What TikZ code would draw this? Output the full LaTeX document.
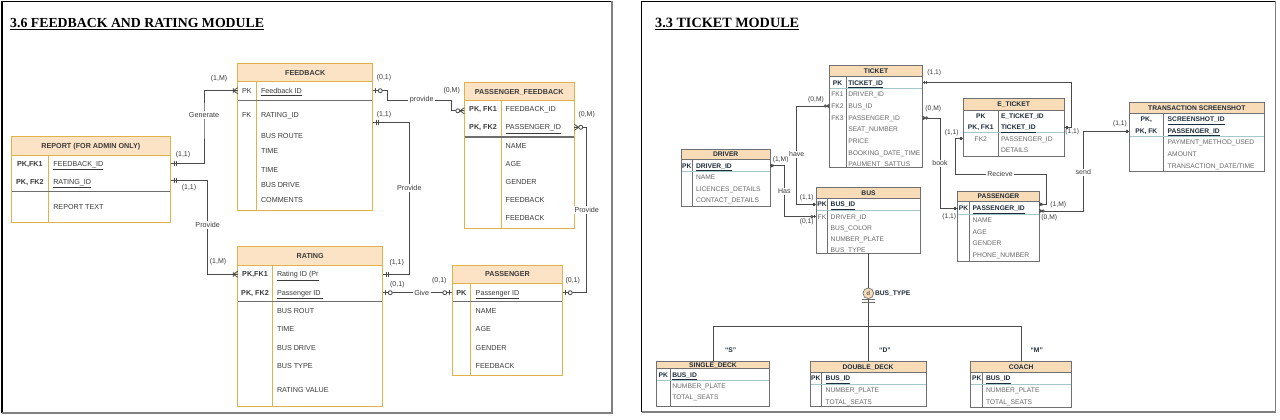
\documentclass[tikz,border=0pt]{standalone}
\usepackage{fontspec}
\setmainfont{Liberation Sans}
\newfontfamily\ttlfont{Liberation Serif}
\usetikzlibrary{calc}
\definecolor{lstroke}{HTML}{E2B24A}
\definecolor{lfill}{HTML}{FDE3C6}
\definecolor{lsepc}{HTML}{6E6E6E}
\definecolor{ltxt}{HTML}{3A3A3A}
\definecolor{connc}{HTML}{4A4A4A}
\definecolor{rstroke}{HTML}{707070}
\definecolor{rfill}{HTML}{F8DCB8}
\definecolor{rsepc}{HTML}{A6C6CA}
\definecolor{rtxt}{HTML}{6A6A6A}
\definecolor{rdark}{HTML}{1E2B38}
\newcommand\lfnt{\fontsize{7.2}{8.6}\selectfont}
\newcommand\rfnt{\fontsize{6.7}{8}\selectfont}
\newcommand\cfnt{\fontsize{7}{8}\selectfont}
\tikzset{
 tabbox/.style={draw=none,fill=white,inner sep=0pt,outer sep=0pt,rectangle},
 lline/.style={draw=lstroke,line width=0.9pt},
 lsep/.style={draw=lsepc,line width=1.3pt},
 rline/.style={draw=rstroke,line width=0.8pt},
 rsep/.style={draw=rsepc,line width=0.8pt},
 lk/.style={font=\lfnt,text=ltxt,inner sep=0pt,outer sep=0pt,text height=5.2pt,text depth=0pt,anchor=west},
 lkc/.style={lk,anchor=center},
 lkb/.style={lkc,font=\lfnt\bfseries},
 la/.style={lk},
 lh/.style={font=\lfnt\bfseries,text=ltxt,inner sep=0pt,text height=5.2pt,text depth=0pt},
 rk/.style={font=\rfnt,text=rtxt,inner sep=0pt,outer sep=0pt,text height=4.8pt,text depth=0pt,anchor=center},
 rkb/.style={rk,font=\rfnt\bfseries,text=rdark},
 ra/.style={rk,anchor=west},
 rab/.style={ra,font=\rfnt\bfseries,text=rdark},
 rh/.style={font=\rfnt\bfseries,text=rdark,inner sep=0pt,text height=4.8pt,text depth=0pt},
 card/.style={font=\cfnt,text=ltxt,inner sep=0.5pt},
 rel/.style={font=\lfnt,text=ltxt,fill=white,inner sep=1.5pt},
 rcard/.style={font=\rfnt,text=ltxt,inner sep=0.5pt},
 rrel/.style={font=\fontsize{7}{8}\selectfont,text=ltxt,fill=white,inner sep=1pt},
 lconn/.style={draw=connc,line width=0.9pt},
 rconn/.style={draw=connc,line width=0.7pt},
 mk/.style={draw=connc,line width=0.8pt},
 disc/.style={circle,draw=rstroke,fill=rfill,line width=0.7pt,minimum size=10.7pt,inner sep=0pt,font=\fontsize{6}{7}\selectfont,text=rdark},
 ttl/.style={anchor=base west,inner sep=0pt,text=black}
}
% #1 name #2 x1 #3 y1 #4 x2 #5 y2 #6 header bottom #7 divider x #8 title #9 separator y
\newcommand\ltable[9]{%
 \node[tabbox,minimum width={#4-#2},minimum height={#5-#3}] (#1) at ({(#2+#4)/2},{(#3+#5)/2}) {};
 \fill[lfill] (#2,#3) rectangle (#4,#6);
 \draw[lline] (#2,#6) -- (#4,#6) (#7,#6) -- (#7,#5);
 \draw[lsep] (#2,#9) -- (#4,#9);
 \draw[lline] (#1.north west) rectangle (#1.south east);
 \node[lh] (#1-h) at ({(#2+#4)/2},{(#3+#6)/2}) {#8};}
\newcommand\rtable[9]{%
 \node[tabbox,minimum width={#4-#2},minimum height={#5-#3}] (#1) at ({(#2+#4)/2},{(#3+#5)/2}) {};
 \fill[rfill] (#2,#3) rectangle (#4,#6);
 \draw[rline] (#2,#6) -- (#4,#6) (#7,#6) -- (#7,#5);
 \draw[rsep] (#2,#9) -- (#4,#9);
 \draw[rline] (#1.north west) rectangle (#1.south east);
 \node[rh] (#1-h) at ({(#2+#4)/2},{(#3+#6)/2}) {#8};}
% markers: #1 point, #2 direction (1 = line leaves to the right), #3 scale
\newcommand\mkone[3]{\draw[mk] (#1) ++({(#2)*3.5*(#3)},{-2.5*(#3)}) -- ++(0,{5*(#3)}) (#1) ++({(#2)*5.5*(#3)},{-2.5*(#3)}) -- ++(0,{5*(#3)});}
\newcommand\mkzone[3]{\draw[mk] (#1) ++({(#2)*3*(#3)},{-2.5*(#3)}) -- ++(0,{5*(#3)}); \draw[mk,fill=white] (#1) ++({(#2)*7.5*(#3)},0) circle[radius={2*(#3)}];}
\newcommand\mkmany[3]{\draw[mk] (#1) ++(0,{-3*(#3)}) -- ++({(#2)*4.5*(#3)},{3*(#3)}) -- ++({-1*(#2)*4.5*(#3)},{3*(#3)}) (#1) -- ++({(#2)*4.5*(#3)},0) ++(0,{-2.5*(#3)}) -- ++(0,{5*(#3)});}
\newcommand\mkzmany[3]{\draw[mk] (#1) ++(0,{-3*(#3)}) -- ++({(#2)*4.5*(#3)},{3*(#3)}) -- ++({-1*(#2)*4.5*(#3)},{3*(#3)}) (#1) -- ++({(#2)*4.5*(#3)},0); \draw[mk,fill=white] (#1) ++({(#2)*6.5*(#3)},0) circle[radius={2*(#3)}];}
\begin{document}
\begin{tikzpicture}[x=1pt,y=-1pt]
\useasboundingbox (0,0) rectangle (1280,420);
\fill[white] (0,0) rectangle (1280,420);
% panel frames
\draw[black,line width=1.2pt] (2,413) -- (2,1.5) -- (612,1.5);
\draw[black!50,line width=1.5pt] (612,1.5) -- (612,413) -- (2,413);
\draw[black,line width=1.2pt] (641.5,412) -- (641.5,1.5) -- (1275.5,1.5);
\draw[black!50,line width=1.5pt] (1275.5,1.5) -- (1275.5,412) -- (641.5,412);
\node[ttl] (t1) at (10,27.3) {\ttlfont\bfseries\fontsize{13.8}{16}\selectfont\underline{3.6 FEEDBACK AND RATING MODULE}};
\node[ttl] (t2) at (655,27.3) {\ttlfont\bfseries\fontsize{14.2}{16}\selectfont\underline{3.3 TICKET MODULE}};

%================ LEFT PANEL ================
\ltable{report}{11}{136.7}{170.7}{222}{155.3}{48.7}{REPORT (FOR ADMIN ONLY)}{191.7}
\node[lkb] (rpk1k) at (29.85,163.7) {PK,FK1};
\node[lkb] (rpk2k) at (29.85,182) {PK, FK2};
\node[la] (rpk1) at (53.3,163.7) {\underline{FEEDBACK\_ID}};
\node[la] (rpk2) at (53.3,182) {\underline{RATING\_ID}};
\node[la] (rtxt) at (53.3,206.7) {REPORT TEXT};

\ltable{fb}{237.7}{63.3}{372.7}{210}{81.7}{256.7}{FEEDBACK}{100.7}
\node[lk] (fbpkk) at (242,90.7) {PK};
\node[lk] (fbfkk) at (242,115) {FK};
\node[la] (fbpk) at (261,90.7) {\underline{Feedback ID}};
\node[la] (fbr1) at (261,115) {RATING\_ID};
\node[la] (fbr2) at (261,136) {BUS ROUTE};
\node[la] (fbr3) at (261,151) {TIME};
\node[la] (fbr4) at (261,170) {TIME};
\node[la] (fbr5) at (261,185) {BUS DRIVE};
\node[la] (fbr6) at (261,200) {COMMENTS};

\ltable{pf}{464.3}{82.3}{574.3}{228.3}{100.7}{501.7}{PASSENGER\_FEEDBACK}{137}
\node[lkb] (pfk1) at (483,109.3) {PK, FK1};
\node[lkb] (pfk2) at (483,127.3) {PK, FK2};
\node[la] (pfa1) at (505.7,109.3) {FEEDBACK\_ID};
\node[la] (pfa2) at (505.7,127.3) {\underline{PASSENGER\_ID}};
\node[la] (pfa3) at (505.7,145.7) {NAME};
\node[la] (pfa4) at (505.7,163.7) {AGE};
\node[la] (pfa5) at (505.7,182) {GENDER};
\node[la] (pfa6) at (505.7,200) {FEEDBACK};
\node[la] (pfa7) at (505.7,218.3) {FEEDBACK};

\ltable{rating}{237.7}{246.7}{382.7}{406}{265.3}{272.7}{RATING}{301.7}
\node[lkb] (rtkk1) at (255,274.3) {PK,FK1};
\node[lkb] (rtkk2) at (255,292.7) {PK, FK2};
\node[la] (rtk1) at (277,274.3) {\underline{Rating ID (Pr}};
\node[la] (rtk2) at (277,292.7) {\underline{Passenger ID\ }};
\node[la] (rta3) at (277,310.7) {BUS ROUT};
\node[la] (rta4) at (277,329) {TIME};
\node[la] (rta5) at (277,347.7) {BUS DRIVE};
\node[la] (rta6) at (277,366) {BUS TYPE};
\node[la] (rta7) at (277,390) {RATING VALUE};

\ltable{pas}{452.3}{265}{562.7}{375.3}{283.3}{470.3}{PASSENGER}{301.7}
\node[lkb] (pask) at (461.3,292.7) {PK};
\node[la] (paspk) at (475.7,292.7) {\underline{Passenger ID}};
\node[la] (pasa1) at (475.7,311) {NAME};
\node[la] (pasa2) at (475.7,329) {AGE};
\node[la] (pasa3) at (475.7,347.7) {GENDER};
\node[la] (pasa4) at (475.7,366) {FEEDBACK};

% left connectors
\coordinate (genb) at (204,115);
\draw[lconn] (report.east |- rpk1) -| (genb) |- (fb.west |- fbpk);
\node[rel] (gen) at (genb) {Generate};
\mkone{report.east |- rpk1}{1}{1}
\mkmany{fb.west |- fbpk}{-1}{1}

\coordinate (rp2) at ($(report.east |- rpk2)+(0,-2)$);
\coordinate (prvb) at (207.7,225);
\draw[lconn] (rp2) -| (prvb) |- (rating.west |- rtk1);
\node[rel] (prv1) at (prvb) {Provide};
\mkone{rp2}{1}{1}
\mkmany{rating.west |- rtk1}{-1}{1}

\coordinate (pvb1) at (387.7,100);
\coordinate (pvb2) at (451.7,100);
\coordinate (pfin) at ($(pf.west |- pfa1)+(0,1.5)$);
\draw[lconn] (fb.east |- fbpk) -| (pvb1) -- (pvb2) |- (pfin);
\node[rel] (pv) at (421.7,100) {provide};
\mkzone{fb.east |- fbpk}{1}{1}
\mkzmany{pfin}{-1}{1}

\coordinate (fbr1c) at ($(fb.east |- fbr1)+(0,7)$);
\coordinate (pv2b) at (409.3,188.3);
\draw[lconn] (fbr1c) -| (pv2b) |- (rating.east |- rtk1);
\node[rel] (prv2) at (pv2b) {Provide};
\mkone{fbr1c}{1}{1}
\mkone{rating.east |- rtk1}{1}{1}

\draw[lconn] (rating.east |- rtk2) -- node[rel,pos=0.56] (give) {Give} (pas.west |- paspk);
\mkzone{rating.east |- rtk2}{1}{1}
\mkzone{pas.west |- paspk}{-1}{1}

\coordinate (pv3b) at (586.7,210);
\draw[lconn] (pf.east |- pfa2) -| (pv3b) |- (pas.east |- paspk);
\node[rel] (prv3) at (pv3b) {Provide};
\mkzmany{pf.east |- pfa2}{1}{1}
\mkzone{pas.east |- paspk}{1}{1}

\node[card] (c1) at (219,78.7) {(1,M)};
\node[card] (c2) at (183,155) {(1,1)};
\node[card] (c3) at (189,187.3) {(1,1)};
\node[card] (c4) at (218,262) {(1,M)};
\node[card] (c5) at (384,77.5) {(0,1)};
\node[card] (c6) at (451.7,90.7) {(0,M)};
\node[card] (c7) at (384,115) {(1,1)};
\node[card] (c8) at (396.7,262.3) {(1,1)};
\node[card] (c9) at (397.3,285) {(0,1)};
\node[card] (c10) at (439.3,280.7) {(0,1)};
\node[card] (c11) at (586.7,115) {(0,M)};
\node[card] (c12) at (572.7,280.7) {(0,1)};

%================ RIGHT PANEL ================
\rtable{ticket}{829.3}{65.7}{922.7}{167.7}{76.5}{846}{TICKET}{88.3}
\node[rkb] (tpkk) at (837.5,82.7) {PK};
\node[rk] (tfk1k) at (837.5,94) {FK1};
\node[rk] (tfk2k) at (837.5,106) {FK2};
\node[rk] (tfk3k) at (837.5,118) {FK3};
\node[rab] (tpk) at (848.3,82.7) {\underline{TICKET\_ID}};
\node[ra] (tfk1) at (848.3,94) {DRIVER\_ID};
\node[ra] (tfk2) at (848.3,106) {BUS\_ID};
\node[ra] (tfk3) at (848.3,118) {PASSENGER\_ID};
\node[ra] (ta4) at (848.3,129.3) {SEAT\_NUMBER};
\node[ra] (ta5) at (848.3,141) {PRICE};
\node[ra] (ta6) at (848.3,152.7) {BOOKING\_DATE\_TIME};
\node[ra] (ta7) at (848.3,164) {PAUMENT\_SATTUS};
\draw[rline] (ticket.north east) -- (ticket.south east);

\rtable{driver}{681}{149}{770.3}{206}{159.3}{692.7}{DRIVER}{171.3}
\node[rkb] (dpkk) at (686.8,165.7) {PK};
\node[rab] (dpk) at (696,165.7) {\underline{DRIVER\_ID}};
\node[ra] (da1) at (696,177) {NAME};
\node[ra] (da2) at (696,188.7) {LICENCES\_DETAILS};
\node[ra] (da3) at (696,200.3) {CONTACT\_DETAILS};

\rtable{bus}{816.3}{187.7}{920.7}{253.3}{198.3}{827.7}{BUS}{210}
\node[rkb] (bpkk) at (822,204.3) {PK};
\node[rk] (bfkk) at (822,216.7) {FK};
\node[rab] (bpk) at (830.7,204.3) {\underline{BUS\_ID}};
\node[ra] (bfk) at (830.7,216.7) {DRIVER\_ID};
\node[ra] (ba2) at (830.7,227.7) {BUS\_COLOR};
\node[ra] (ba3) at (830.7,239) {NUMBER\_PLATE};
\node[ra] (ba4) at (830.7,250) {BUS\_TYPE};
\draw[rline] (bus.south west) -- (bus.south east);

\rtable{eticket}{963.3}{98.3}{1064}{156.3}{110}{998.3}{E\_TICKET}{132.7}
\node[rkb] (etk1k) at (980.8,116) {PK};
\node[rkb] (etk2k) at (980.8,127.3) {PK, FK1};
\node[rk] (etk3k) at (980.8,138.7) {FK2};
\node[rab] (etk1) at (1001,116) {E\_TICKET\_ID};
\node[rab] (etk2) at (1001,127.3) {\underline{TICKET\_ID}};
\node[ra] (etk3) at (1001,138.7) {PASSENGER\_ID};
\node[ra] (etk4) at (1001,150.3) {DETAILS};

\rtable{trans}{1129.3}{102.3}{1264.3}{171}{113.3}{1163.3}{TRANSACTION SCREENSHOT}{136.7}
\node[rkb] (trk1k) at (1146.3,119.3) {PK,};
\node[rkb] (trk2k) at (1146.3,131) {PK, FK};
\node[rab] (trk1) at (1167.7,119.3) {\underline{SCREENSHOT\_ID}};
\node[rab] (trk2) at (1167.7,131) {\underline{PASSENGER\_ID}};
\node[ra] (tra3) at (1167.7,142.3) {PAYMENT\_METHOD\_USED};
\node[ra] (tra4) at (1167.7,153.7) {AMOUNT};
\node[ra] (tra5) at (1167.7,166.3) {TRANSACTION\_DATE/TIME};

\rtable{pasr}{957.7}{191}{1039.3}{261}{201.7}{969.3}{PASSENGER}{214}
\node[rkb] (ppkk) at (963.5,208.3) {PK};
\node[rab] (ppk) at (972.7,208.3) {\underline{PASSENGER\_ID}};
\node[ra] (pa1) at (972.7,220) {NAME};
\node[ra] (pa2) at (972.7,231.7) {AGE};
\node[ra] (pa3) at (972.7,243.3) {GENDER};
\node[ra] (pa4) at (972.7,255) {PHONE\_NUMBER};

\rtable{sdeck}{656.7}{361}{769.3}{406.7}{368.7}{670}{SINGLE\_DECK}{380.3}
\node[rkb] (sdk) at (663.3,375) {PK};
\node[rab] (sdpk) at (672.3,375) {\underline{BUS\_ID}};
\node[ra] (sda1) at (672.3,386) {NUMBER\_PLATE};
\node[ra] (sda2) at (672.3,397.3) {TOTAL\_SEATS};

\rtable{ddeck}{810}{361}{926}{406.7}{372.7}{821.7}{DOUBLE\_DECK}{384.3}
\node[rkb] (ddk) at (815.8,378.3) {PK};
\node[rab] (ddpk) at (825.7,378.3) {\underline{BUS\_ID}};
\node[ra] (dda1) at (825.7,390) {NUMBER\_PLATE};
\node[ra] (dda2) at (825.7,401.7) {TOTAL\_SEATS};

\rtable{coach}{970.7}{361}{1071.7}{407.3}{372.7}{982.7}{COACH}{384.3}
\node[rkb] (cok) at (976.7,378.3) {PK};
\node[rab] (copk) at (986,378.3) {\underline{BUS\_ID}};
\node[ra] (coa1) at (986,390) {NUMBER\_PLATE};
\node[ra] (coa2) at (986,401.7) {TOTAL\_SEATS};

% discriminator
\node[disc] (dsc) at (868.3,293.3) {d};
\node[rab] (dscl) at (875,293.3) {BUS\_TYPE};
\draw[rconn] (dsc |- bus.south) -- (dsc);
\draw[rconn] (dsc) -- (dsc |- ddeck.north);
\draw[rline] (862,299.7) -- (874.5,299.7) (862,301.9) -- (874.5,301.9);
\coordinate (hbr) at (868.3,326.7);
\draw[rconn] (sdeck.north) |- (hbr) -| (coach.north);
\node[rab,anchor=center] (qs) at (730.7,350) {“S”};
\node[rab,anchor=center] (qd) at (885,350) {“D”};
\node[rab,anchor=center] (qm) at (1036.7,350) {“M”};

% right connectors
\coordinate (havb) at (796.7,154.3);
\draw[rconn] (ticket.west |- tfk2) -| (havb) |- (bus.west |- bpk);
\node[rrel] (have) at (havb) {have};
\mkzmany{ticket.west |- tfk2}{-1}{0.6}
\mkone{bus.west |- bpk}{-1}{0.6}

\coordinate (hasb) at (784.3,191.3);
\draw[rconn] (driver.east |- dpk) -| (hasb) |- (bus.west |- bfk);
\node[rrel] (has) at (hasb) {Has};
\mkmany{driver.east |- dpk}{1}{0.6}
\mkzone{bus.west |- bfk}{-1}{0.6}

\coordinate (bookb) at (940,163.3);
\draw[rconn] (ticket.east |- tfk3) -| (bookb) |- (pasr.west |- ppk);
\node[rrel] (book) at (bookb) {book};
\mkzmany{ticket.east |- tfk3}{1}{0.6}
\mkone{pasr.west |- ppk}{-1}{0.6}

\coordinate (tetb) at ($(eticket.east |- etk2)+(7.7,0)$);
\draw[rconn] (ticket.east |- tpk) -| (tetb) -- (eticket.east |- etk2);
\mkone{ticket.east |- tpk}{1}{0.6}
\mkone{eticket.east |- etk2}{1}{0.6}

\coordinate (rc1) at (955,174.3);
\coordinate (rc2) at (1046.7,174.3);
\coordinate (rcin) at ($(pasr.east |- ppk)+(0,-4)$);
\draw[rconn] (eticket.west |- etk3) -| (rc1) -- (rc2) |- (rcin);
\node[rrel] (recv) at (1000,174.3) {Recieve};
\mkone{eticket.west |- etk3}{-1}{0.6}
\mkmany{rcin}{1}{0.6}

\coordinate (sdout) at ($(pasr.east |- ppk)+(0,2.7)$);
\coordinate (sendb) at (1083.3,172.3);
\draw[rconn] (sdout) -| (sendb) |- (trans.west |- trk2);
\node[rrel] (send) at (sendb) {send};
\mkzmany{sdout}{1}{0.6}
\mkone{trans.west |- trk2}{-1}{0.6}

\node[rcard] (r1) at (816,100) {(0,M)};
\node[rcard] (r2) at (806.7,197.3) {(1,1)};
\node[rcard] (r3) at (780.7,159.3) {(1,M)};
\node[rcard] (r4) at (806.7,222) {(0,1)};
\node[rcard] (r5) at (933.3,108.3) {(0,M)};
\node[rcard] (r6) at (949.3,216.5) {(1,1)};
\node[rcard] (r7) at (934.3,72.7) {(1,1)};
\node[rcard] (r8) at (1072.3,131.7) {(1,1)};
\node[rcard] (r9) at (951.7,132.7) {(1,1)};
\node[rcard] (r10) at (1058.3,205) {(1,M)};
\node[rcard] (r11) at (1049.3,217.3) {(0,M)};
\node[rcard] (r12) at (1120,123.3) {(1,1)};
\end{tikzpicture}
\end{document}
